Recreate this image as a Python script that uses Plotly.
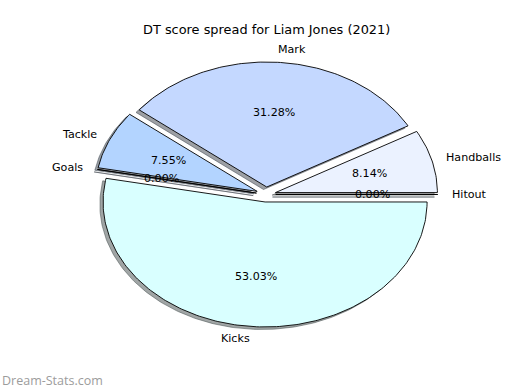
import numpy as np
import plotly.graph_objects as go

# ---- data (drawing order: counter-clockwise from 3 o'clock) ----
labels = ["Hitout", "Handballs", "Mark", "Tackle", "Goals", "Kicks"]
values = [0.00, 8.14, 31.28, 7.55, 0.00, 53.03]
colors = ["#d0e4ff", "#ebf2ff", "#c4d8ff", "#b3d4ff", "#c8dcff", "#d9ffff"]
explode = [0.06, 0.06, 0.06, 0.06, 0.06, 0.06]
title_text = "DT score spread for Liam Jones (2021)"
watermark_text = "Dream-Stats.com"

# ---- layout / style ----
W, H = 520, 390
CX, CY = 266.0, 194.5      # pie centre in pixels
RX, RY = 162.0, 125.0      # pixels per unit radius (non-equal aspect, like the source)
START = 0.0
LABEL_DIST = 1.1
PCT_DIST = 0.6
SHADOW_OFF = (-0.02, -0.02)
SHADE = 0.3
FONT = "DejaVu Sans"


def hex_rgb(h):
    h = h.lstrip("#")
    return tuple(int(h[i:i + 2], 16) for i in (0, 2, 4))


total = float(sum(values))
fig = go.Figure()

shadow_traces, wedge_traces, annotations = [], [], []
theta = START
for lab, v, col, ex in zip(labels, values, colors, explode):
    span = 360.0 * v / total
    th1, th2 = theta, theta + span
    theta = th2
    thm = np.deg2rad((th1 + th2) / 2.0)
    ox, oy = ex * np.cos(thm), ex * np.sin(thm)
    n = max(2, int(np.ceil(span)) + 1)
    ang = np.deg2rad(np.linspace(th1, th2, n))
    xs = np.concatenate([[ox], ox + np.cos(ang), [ox]])
    ys = np.concatenate([[oy], oy + np.sin(ang), [oy]])

    r, g, b = hex_rgb(col)
    sc = f"rgba({SHADE*r:.0f},{SHADE*g:.0f},{SHADE*b:.0f},0.5)"
    shadow_traces.append(go.Scatter(
        x=xs + SHADOW_OFF[0], y=ys + SHADOW_OFF[1], mode="lines",
        fill="toself", fillcolor=sc, line=dict(color=sc, width=1),
        hoverinfo="skip", showlegend=False))
    wedge_traces.append(go.Scatter(
        x=xs, y=ys, mode="lines", fill="toself", fillcolor=col,
        line=dict(color="black", width=0.9), name=lab,
        hoverinfo="name", showlegend=False))

    xt = ox + LABEL_DIST * np.cos(thm)
    yt = oy + LABEL_DIST * np.sin(thm)
    annotations.append(dict(
        x=xt, y=yt, xref="x", yref="y", text=lab, showarrow=False,
        xanchor="left" if xt > 0 else "right", yanchor="middle",
        xshift=-4 if xt > 0 else 4,
        font=dict(family=FONT, size=11.1, color="black")))
    xp = ox + PCT_DIST * np.cos(thm)
    yp = oy + PCT_DIST * np.sin(thm)
    annotations.append(dict(
        x=xp, y=yp, xref="x", yref="y", text=f"{100.0 * v / total:.2f}%",
        showarrow=False, xanchor="center", yanchor="middle",
        font=dict(family=FONT, size=11.1, color="black")))

for t in shadow_traces + wedge_traces:
    fig.add_trace(t)

annotations.append(dict(
    x=CX / W, y=1 - 30 / H, xref="paper", yref="paper", text=title_text,
    showarrow=False, xanchor="center", yanchor="middle",
    font=dict(family=FONT, size=12.9, color="black")))
annotations.append(dict(
    x=0.0, y=1 - 380 / H, xref="paper", yref="paper", text=watermark_text,
    showarrow=False, xanchor="left", yanchor="middle",
    font=dict(family="Open Sans", size=12.5, color="#9c9c9c")))

fig.update_layout(
    width=W, height=H, margin=dict(l=0, r=0, t=0, b=0),
    paper_bgcolor="white", plot_bgcolor="white",
    xaxis=dict(range=[-CX / RX, (W - CX) / RX], visible=False, fixedrange=True),
    yaxis=dict(range=[-(H - CY) / RY, CY / RY], visible=False, fixedrange=True),
    annotations=annotations, showlegend=False,
)

fig.write_html(
    "out.html",
    config={"displayModeBar": False},
    post_script="document.body.style.margin='0';document.body.style.overflow='hidden';",
)
